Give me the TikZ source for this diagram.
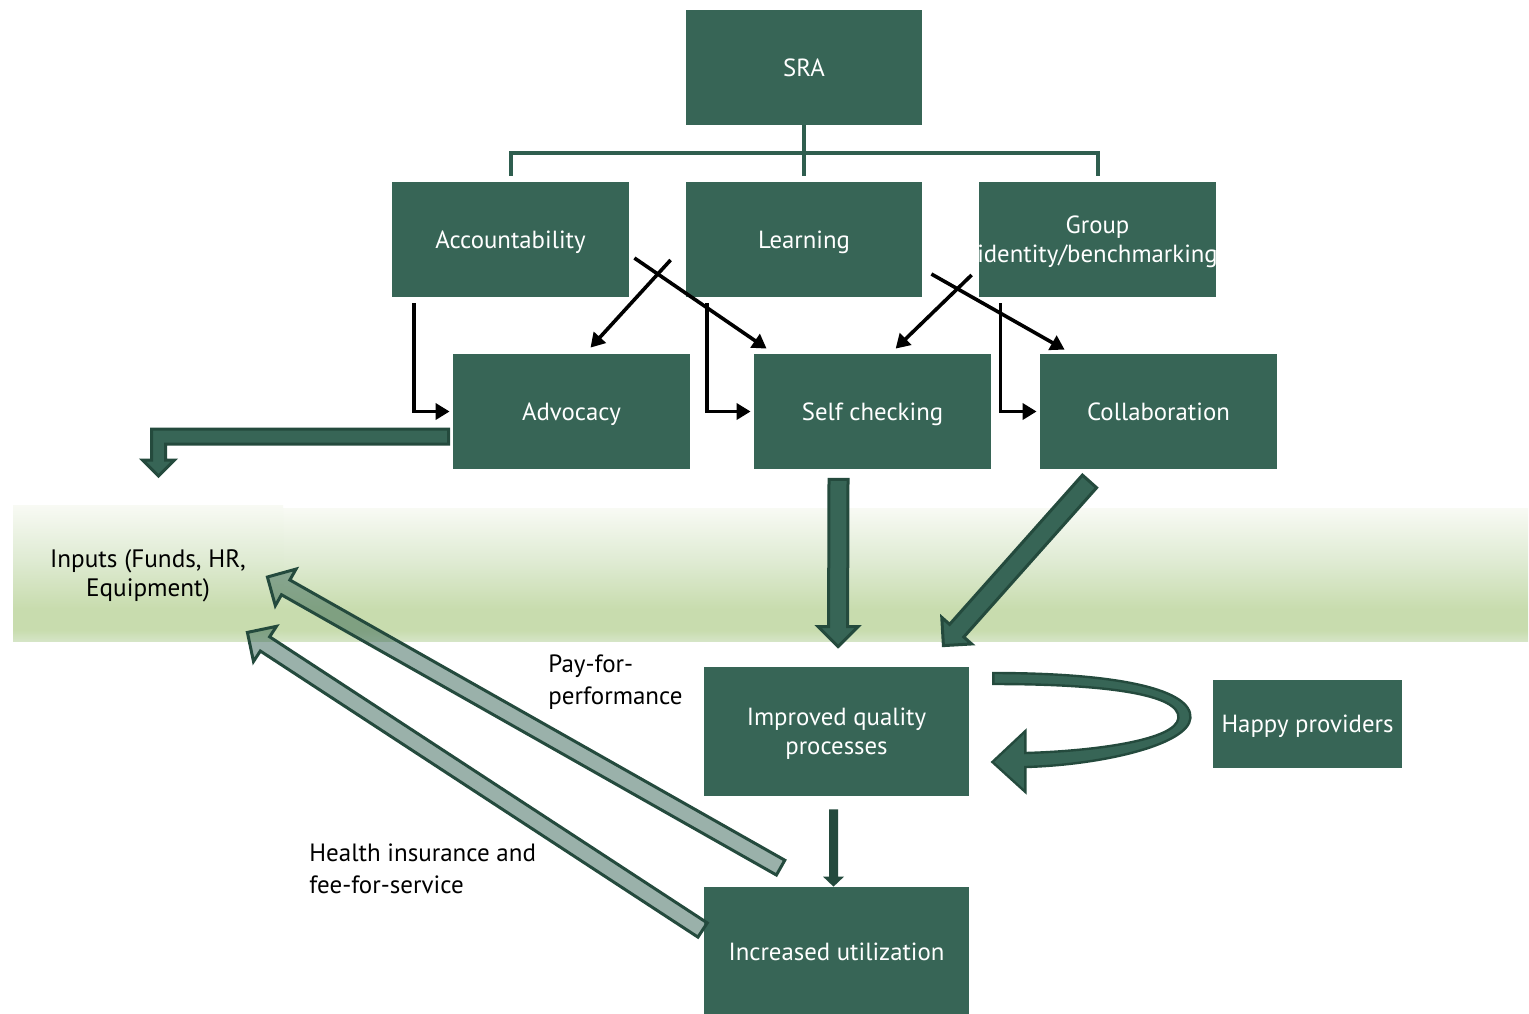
\documentclass[tikz,border=0pt]{standalone}
\usepackage{fontspec}
\setmainfont{PT Sans}
\usetikzlibrary{calc,arrows.meta}

\definecolor{boxgreen}{HTML}{376556}
\definecolor{edgegreen}{HTML}{244A3D}
\definecolor{treegreen}{HTML}{2F5E4F}
\definecolor{bandtop}{HTML}{F8FAF4}
\definecolor{bandmid}{HTML}{DFEBD3}
\definecolor{bandlow}{HTML}{C8DCAE}
\definecolor{bandbot}{HTML}{D5E5C6}
\pgfdeclareverticalshading{bandshade}{100bp}{color(0bp)=(bandbot); color(25bp)=(bandbot); color(29bp)=(bandlow); color(37bp)=(bandlow); color(55bp)=(bandmid); color(75bp)=(bandtop); color(100bp)=(bandtop)}

% straight block arrow: style, tail, tip, half shaft, half head, head length
\newcommand\blockarrow[6]{%
  \coordinate (ba-h) at ($(#3)!#6!(#2)$);
  \filldraw[#1] ($(#2)!#4!90:(#3)$) -- ($(ba-h)!#4!90:(#3)$) -- ($(ba-h)!#5!90:(#3)$)
    -- (#3) -- ($(ba-h)!#5!-90:(#3)$) -- ($(ba-h)!#4!-90:(#3)$) -- ($(#2)!#4!-90:(#3)$) -- cycle;}

\tikzset{
  box/.style={rectangle, fill=boxgreen, text=white, inner sep=0pt, align=center,
    text depth=0pt, font=\fontsize{12.4}{14.5}\selectfont},
  plainlabel/.style={text=black, inner sep=0pt, font=\fontsize{12.5}{16}\selectfont},
  tree/.style={draw=treegreen, line width=2pt},
  blk/.style={draw=black, line width=1.8pt, -{Triangle[length=7pt,width=8pt]}},
  bigarrow/.style={fill=boxgreen, draw=edgegreen, line width=1.5pt, line join=miter},
  palearrow/.style={fill=boxgreen, fill opacity=0.5, draw=edgegreen, draw opacity=1,
    line width=1.5pt, line join=miter},
  smallarrow/.style={fill=edgegreen, draw=none},
}

\begin{document}
\begin{tikzpicture}[x=0.5pt,y=-0.5pt]
\clip (0,0) rectangle (1529,1013);
\fill[white] (0,0) rectangle (1529,1013);

% green band behind the lower half
\shade[shading=bandshade] (283,508) rectangle (1528,641);
\node[inner sep=0pt, minimum width=135pt, minimum height=68pt, shading=bandshade,
  align=center, text depth=0pt, font=\fontsize{12.6}{14.5}\selectfont] (inputs) at (148,573)
  {Inputs (Funds, HR,\\Equipment)};

% boxes
\node[box, minimum width=118pt, minimum height=57.5pt] (sra) at (804,67.5) {SRA};
\node[box, minimum width=118.5pt, minimum height=57.5pt] (acc) at (510.5,239.5) {Accountability};
\node[box, minimum width=118pt, minimum height=57.5pt] (learn) at (804,239.5) {Learning};
\node[box, minimum width=118.5pt, minimum height=57.5pt] (grp) at (1097.5,239.5)
  {Group\\\makebox[0pt]{identity/benchmarking}};
\node[box, minimum width=118.5pt, minimum height=57.5pt] (adv) at (571.5,411.5) {Advocacy};
\node[box, minimum width=118.5pt, minimum height=57.5pt] (self) at (872.5,411.5) {Self checking};
\node[box, minimum width=118.5pt, minimum height=57.5pt] (col) at (1158.5,411.5) {Collaboration};
\node[box, minimum width=132.5pt, minimum height=64.5pt] (imp) at (836.5,731.5)
  {Improved quality\\processes};
\node[box, minimum width=94.5pt, minimum height=44pt] (happy) at (1307.5,724) {Happy providers};
\node[box, minimum width=132.5pt, minimum height=65pt] (inc) at (836.5,952) {Increased utilization};

% labels
\node[plainlabel, anchor=west, align=left] (pfp) at (548,682) {Pay-for-\\performance};
\node[plainlabel, anchor=west, align=left] (hif) at (309,869) {Health insurance and\\fee-for-service};

% organisational tree
\draw[tree] (sra.south) -- ($(learn.north)+(0,-6)$);
\draw[tree] ($(acc.north)+(0,-6)$) |- ($(grp.north)+(0,-29)$) -- ($(grp.north)+(0,-6)$);

% elbow arrows
\draw[blk] ($(acc.south west)+(22.5,6)$) |- ($(adv.west)+(-3,0)$);
\draw[blk] ($(learn.south west)+(21.5,6)$) |- ($(self.west)+(-3,0)$);
\draw[blk] ($(grp.south west)+(22,6)$) |- ($(col.west)+(-3,0)$);

% crossing arrows
\draw[blk] ($(learn.west)+(-15,20.5)$) -- ($(adv.north)+(19,-6)$);
\draw[blk] ($(acc.east)+(5,18.5)$) -- ($(self.north west)+(13,-5)$);
\draw[blk] ($(grp.west)+(-7,35.5)$) -- ($(self.north west)+(142,-5)$);
\draw[blk] ($(learn.east)+(9,34.5)$) -- ($(col.north west)+(25,-4)$);

% advocacy feeds the inputs
\coordinate (advout) at ($(adv.west)+(-4,25)$);
\filldraw[bigarrow] ($(advout)+(0,-7.5)$) -- ($(advout)+(-297,-7.5)$) -- ($(advout)+(-297,23.5)$)
  -- ($(advout)+(-306,23.5)$) -- ($(advout)+(-290,39.5)$) -- ($(advout)+(-274,23.5)$)
  -- ($(advout)+(-283,23.5)$) -- ($(advout)+(-283,7.5)$) -- ($(advout)+(0,7.5)$) -- cycle;

% arrows into improved quality
\coordinate (selfout) at ($(self.south)+(-34,10)$);
\coordinate (impin1) at ($(imp.north)+(1.5,-20)$);
\blockarrow{bigarrow}{selfout}{impin1}{4.75pt}{10pt}{10pt}
\coordinate (colout) at ($(col.south)+(-69,12)$);
\coordinate (impin2) at ($(imp.north east)+(-26,-21)$);
\blockarrow{bigarrow}{colout}{impin2}{4.75pt}{10pt}{10pt}

% improved quality leads to utilization
\coordinate (impout) at ($(imp.south)+(-3,13)$);
\coordinate (incin) at ($(inc.north)+(-3,0)$);
\blockarrow{smallarrow}{impout}{incin}{2.25pt}{5.25pt}{5pt}

% payments flowing back to inputs
\coordinate (incout1) at ($(inc.north west)+(77,-19)$);
\coordinate (inputsin1) at ($(inputs.east)+(-16,4)$);
\blockarrow{palearrow}{incout1}{inputsin1}{4.25pt}{10.5pt}{10.5pt}
\coordinate (incout2) at ($(inc.west)+(-1,-22)$);
\coordinate (inputsin2) at ($(inputs.south east)+(-36,-9)$);
\blockarrow{palearrow}{incout2}{inputsin2}{4.25pt}{10.5pt}{10.5pt}

% feedback loop from happy providers
\begin{scope}[shift={(imp.east)}]
\filldraw[bigarrow, line width=1.2pt]
  (24,-58.5) .. controls (151,-58.5) and (223,-41.5) .. (221,-13.5)
  .. controls (219,13.5) and (131,33.5) .. (56,35.5)
  -- (56,60.5) -- (23,30.5) -- (56,-0.5) -- (56,21.5)
  .. controls (126,19.5) and (207,8.5) .. (209,-13.5)
  .. controls (211,-36.5) and (141,-47.5) .. (24,-47.5) -- cycle;
\end{scope}
\end{tikzpicture}
\end{document}
